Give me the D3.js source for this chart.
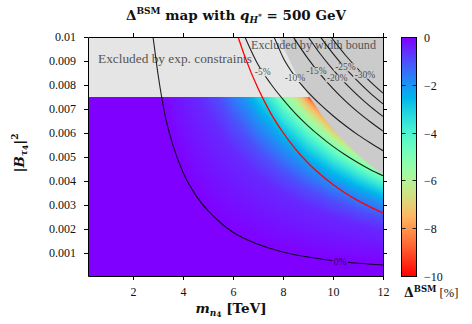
<!DOCTYPE html>
<html><head><meta charset="utf-8">
<script src="https://cdn.jsdelivr.net/npm/d3@7"></script>
<style>body{margin:0;background:#fff}svg{display:block;font-family:"Liberation Serif","Times New Roman",serif}</style>
</head><body><svg id="chart" width="472" height="324"></svg>
<script>
// ---------- data ----------
const xDomain = [0.2, 12];
const yDomain = [0.00004, 0.01];
const xTicks = [2, 4, 6, 8, 10, 12];
const xTickLabels = ["2", "4", "6", "8", "10", "12"];
const yTicks = [0.001, 0.002, 0.003, 0.004, 0.005, 0.006, 0.007, 0.008, 0.009, 0.01];
const yTickLabels = ["0.001", "0.002", "0.003", "0.004", "0.005", "0.006", "0.007", "0.008", "0.009", "0.01"];
const cbTicks = [0, -2, -4, -6, -8, -10];
const cbTickLabels = ["0", "\u22122", "\u22124", "\u22126", "\u22128", "\u221210"];
const cbDomain = [-10, 0];
const expBound = 0.0075;           // |B|^2 above this is excluded by exp. constraints

// contour lines of Delta^BSM [%]: points [m_n4 (TeV), |B|^2]
const lvl0   = [[2.7,0.0107],[2.8,0.0100],[3.0,0.00845],[3.3,0.00665],[3.6,0.00548],[4.0,0.00436],[4.5,0.00342],[5.0,0.00276],[5.5,0.00226],[6.0,0.00186],[7.0,0.00136],[8.0,0.00104],[9.0,0.00083],[10.0,0.00068],[11.0,0.00057],[12.0,0.00050]];
const lvlM05 = [[2.5,0.0176],[3,0.01364],[3.745,0.0100],[4,0.00912],[4.5,0.00771],[5,0.00667],[6,0.00517],[7,0.00416],[8,0.00345],[9,0.00293],[10,0.00253],[11,0.00221],[12,0.00196]];
const lvlM1  = [[3,0.01716],[4,0.01147],[4.41,0.0100],[5,0.00839],[6,0.00650],[7,0.00524],[8,0.00435],[9,0.00369],[10,0.00318],[11,0.00278],[12,0.00246]];
const lvlM2  = [[4,0.01446],[5,0.01058],[5.205,0.0100],[6,0.00819],[7,0.00660],[8,0.00548],[9,0.00465],[10,0.00401],[11,0.00351],[12,0.00311]];
const lvlM3  = [[4.5,0.01404],[5,0.01211],[5.734,0.0100],[6,0.00938],[7,0.00756],[8,0.00627],[9,0.00532],[10,0.00459],[11,0.00402],[12,0.00356]];
const lvlM4  = [[5,0.01333],[6,0.01033],[6.141,0.0100],[6.5,0.00924],[7,0.00832],[8,0.00690],[9,0.00586],[10,0.00505],[11,0.00442],[12,0.00391]];
const lvlM5  = [[5.5,0.01264],[6,0.01112],[6.476,0.0100],[7,0.00885],[7.5,0.00806],[8,0.00740],[8.5,0.00681],[9,0.00630],[9.5,0.00585],[10,0.00544],[10.5,0.00508],[11,0.00476],[11.5,0.00447],[12,0.00422]];
const lvlM6  = [[6,0.01182],[6.764,0.0100],[7,0.00953],[8,0.00791],[9,0.00671],[10,0.00578],[11,0.00506],[12,0.00448]];
const lvlM7  = [[6,0.01244],[6.5,0.01113],[7.015,0.0100],[7.5,0.00911],[8,0.00832],[9,0.00706],[10,0.00609],[11,0.00533],[12,0.00471]];
const lvlM8  = [[6.5,0.01164],[7,0.01049],[7.243,0.0100],[7.5,0.00952],[8,0.00870],[9,0.00738],[10,0.00637],[11,0.00557],[12,0.00493]];
const lvlM10 = [[7,0.01129],[7.64,0.0100],[8,0.00915],[8.5,0.00833],[9,0.00770],[9.5,0.00718],[10,0.00672],[10.5,0.00630],[11,0.00592],[11.5,0.00558],[12,0.00526]];
const lvlM15 = [[8.412,0.0100],[8.5,0.00986],[9,0.00910],[9.5,0.00843],[10,0.00785],[10.5,0.00733],[11,0.00687],[11.5,0.00646],[12,0.00608]];
const lvlM20 = [[9.008,0.0100],[9.5,0.00928],[10,0.00864],[10.5,0.00807],[11,0.00756],[11.5,0.00710],[12,0.00669]];
const lvlM25 = [[9.5,0.0100],[10,0.00931],[10.5,0.00869],[11,0.00815],[11.5,0.00765],[12,0.00721]];
const lvlM30 = [[9.92,0.0100],[10.5,0.00924],[11,0.00866],[11.5,0.00813],[12,0.00766]];
const redLine = [[6.205,0.0100],[6.5,0.00911],[7,0.00786],[7.5,0.00684],[8,0.00602],[8.5,0.00533],[9,0.00475],[9.5,0.00427],[10,0.00385],[10.5,0.00349],[11,0.00318],[11.5,0.00291],[12,0.00267]];
const widthBound = [[7.84,0.0100],[8,0.00961],[8.5,0.00851],[9,0.00759],[9.5,0.00681],[10,0.00615],[10.5,0.00558],[11,0.00508],[11.5,0.00465],[12,0.00427]];

const fieldLevels = [0, -0.5, -1, -2, -3, -4, -5, -6, -7, -8, -10];
const fieldCurves = [lvl0, lvlM05, lvlM1, lvlM2, lvlM3, lvlM4, lvlM5, lvlM6, lvlM7, lvlM8, lvlM10];
const drawnCurves = [lvl0, lvlM5, lvlM10, lvlM15, lvlM20, lvlM25, lvlM30];

const labelText = ["0%", "-5%", "-10%", "-15%", "-20%", "-25%", "-30%"];
const labelM    = [10.28, 7.19, 8.48, 9.34, 10.17, 10.50, 11.28];
const labelB2   = [0.00064, 0.00853, 0.00829, 0.00858, 0.00828, 0.00874, 0.00843];

// ---------- layout ----------
const W = 472, H = 324;
const L = 88, R = 383, T = 37, B = 276;
const svg = d3.select("#chart");
const x = d3.scaleLinear().domain(xDomain).range([L, R]);
const y = d3.scaleLinear().domain(yDomain).range([B, T]);
const cbY = d3.scaleLinear().domain(cbDomain).range([B, T]);
const SERIF = '"Liberation Serif", "Times New Roman", serif';
const BOLDF = '"DejaVu Serif", serif';

function rainbow(t) {
  t = Math.max(0, Math.min(1, t));
  const r = Math.min(1, Math.abs(2 * t - 0.5));
  const g = Math.sin(Math.PI * t);
  const b = Math.cos(Math.PI * t / 2);
  return [Math.round(r * 255), Math.round(g * 255), Math.round(b * 255)];
}
const rgbStr = c => `rgb(${c[0]},${c[1]},${c[2]})`;

function curveAt(c, m) {
  if (m < c[0][0]) return Infinity;
  if (m >= c[c.length - 1][0]) return c[c.length - 1][1];
  for (let i = 0; i < c.length - 1; i++) {
    if (m >= c[i][0] && m <= c[i + 1][0]) {
      const f = (m - c[i][0]) / (c[i + 1][0] - c[i][0]);
      return c[i][1] + f * (c[i + 1][1] - c[i][1]);
    }
  }
  return Infinity;
}

const defs = svg.append("defs");
defs.append("clipPath").attr("id", "plotclip").append("rect")
  .attr("x", L).attr("y", T).attr("width", R - L).attr("height", B - T);

svg.append("rect").attr("width", W).attr("height", H).attr("fill", "#fff");

// ---------- colour field ----------
const pw = R - L, ph = B - T;
const canvas = document.createElement("canvas");
canvas.width = pw; canvas.height = ph;
const ctx = canvas.getContext("2d");
const img = ctx.createImageData(pw, ph);
for (let i = 0; i < pw; i++) {
  const m = x.invert(L + i + 0.5);
  const bs = fieldCurves.map(c => curveAt(c, m));
  for (let j = 0; j < ph; j++) {
    const b2 = y.invert(T + j + 0.5);
    let d;
    if (b2 <= bs[0]) d = 0;
    else {
      d = fieldLevels[fieldLevels.length - 1];
      for (let k = 0; k < bs.length - 1; k++) {
        if (b2 < bs[k + 1]) {
          const f = isFinite(bs[k + 1]) ? (b2 - bs[k]) / (bs[k + 1] - bs[k]) : 0;
          d = fieldLevels[k] + f * (fieldLevels[k + 1] - fieldLevels[k]);
          break;
        }
      }
    }
    const c = rainbow(-d / 10);
    const p = (j * pw + i) * 4;
    img.data[p] = c[0]; img.data[p + 1] = c[1]; img.data[p + 2] = c[2]; img.data[p + 3] = 255;
  }
}
ctx.putImageData(img, 0, 0);
svg.append("image").attr("x", L).attr("y", T).attr("width", pw).attr("height", ph)
  .attr("preserveAspectRatio", "none").attr("href", canvas.toDataURL());

const plot = svg.append("g").attr("clip-path", "url(#plotclip)");

// excluded regions
plot.append("rect").attr("x", L).attr("y", y(yDomain[1])).attr("width", R - L)
  .attr("height", y(expBound) - y(yDomain[1])).attr("fill", "#e5e5e5");
const wbPts = widthBound.map(d => [x(d[0]), y(d[1])]).concat([[x(xDomain[1]), y(yDomain[1])]]);
plot.append("path").attr("d", d3.line().curve(d3.curveLinearClosed)(wbPts)).attr("fill", "#cbcbcb");

plot.append("text").attr("x", 98).attr("y", 63).style("font-family", SERIF).attr("font-size", 12.5).attr("fill", "#555")
  .attr("textLength", 154).attr("lengthAdjust", "spacingAndGlyphs").text("Excluded by exp. constraints");
plot.append("text").attr("x", 251).attr("y", 49).style("font-family", SERIF).attr("font-size", 12.5).attr("fill", "#555")
  .attr("textLength", 125).attr("lengthAdjust", "spacingAndGlyphs").text("Excluded by width bound");

// labels + mask gaps
const mask = defs.append("mask").attr("id", "lblmask").attr("maskUnits", "userSpaceOnUse")
  .attr("x", 0).attr("y", 0).attr("width", W).attr("height", H);
mask.append("rect").attr("width", W).attr("height", H).attr("fill", "#fff");

const line = d3.line().x(d => x(d[0])).y(d => y(d[1])).curve(d3.curveMonotoneX);
const lines = plot.append("g").attr("mask", "url(#lblmask)");
drawnCurves.forEach(c => {
  lines.append("path").attr("d", line(c)).attr("fill", "none")
    .attr("stroke", "#000").attr("stroke-opacity", 0.85).attr("stroke-width", 1.1);
});
plot.append("path").attr("d", line(redLine)).attr("fill", "none")
  .attr("stroke", "#ff0000").attr("stroke-width", 1.3);

labelText.forEach((t, i) => {
  const tx = plot.append("text").attr("x", x(labelM[i])).attr("y", y(labelB2[i]))
    .attr("text-anchor", "middle").attr("dominant-baseline", "central").style("font-family", SERIF)
    .attr("font-size", 9.5).attr("fill", "#000").attr("fill-opacity", 0.68).text(t);
  const bb = tx.node().getBBox();
  mask.append("rect").attr("x", bb.x - 1.5).attr("y", bb.y + 1).attr("width", bb.width + 3)
    .attr("height", bb.height - 2).attr("fill", "#000");
});

// ---------- axes ----------
function styleAxis(g) {
  g.style("font-family", SERIF).attr("font-size", 12);
  g.selectAll("path,line").attr("stroke", "#000").attr("stroke-width", 1);
  g.selectAll("text").attr("fill", "#111");
}
svg.append("g").attr("transform", `translate(0,${B})`)
  .call(d3.axisBottom(x).tickValues(xTicks).tickFormat((d, i) => xTickLabels[i]).tickSize(4).tickSizeOuter(0).tickPadding(7))
  .call(styleAxis);
svg.append("g").attr("transform", `translate(0,${T})`)
  .call(d3.axisTop(x).tickValues(xTicks).tickFormat("").tickSize(4).tickSizeOuter(0))
  .call(styleAxis);
svg.append("g").attr("transform", `translate(${L},0)`)
  .call(d3.axisLeft(y).tickValues(yTicks).tickFormat((d, i) => yTickLabels[i]).tickSize(4).tickSizeOuter(0).tickPadding(8))
  .call(styleAxis);
svg.append("g").attr("transform", `translate(${R},0)`)
  .call(d3.axisRight(y).tickValues(yTicks).tickFormat("").tickSize(4).tickSizeOuter(0))
  .call(styleAxis);

// titles
const title = svg.append("text").attr("x", 236).attr("y", 20).attr("text-anchor", "middle")
  .style("font-family", BOLDF).attr("font-size", 13.5).attr("font-weight", "bold").attr("fill", "#111");
title.append("tspan").text("\u0394");
title.append("tspan").attr("font-size", 9).attr("dy", -6).text("BSM");
title.append("tspan").attr("dy", 6).text(" map with ");
title.append("tspan").attr("font-style", "italic").text("q");
title.append("tspan").attr("font-style", "italic").attr("font-size", 9).attr("dy", 3).text("H");
title.append("tspan").attr("font-size", 7.5).attr("dy", -4).text("*");
title.append("tspan").attr("dy", 1).text(" = 500 GeV");

const xl = svg.append("text").attr("x", 231).attr("y", 313).attr("text-anchor", "middle")
  .style("font-family", BOLDF).attr("font-size", 13.5).attr("font-weight", "bold").attr("fill", "#111");
xl.append("tspan").attr("font-style", "italic").text("m");
xl.append("tspan").attr("font-style", "italic").attr("font-size", 9).attr("dy", 3).text("n");
xl.append("tspan").attr("font-size", 7.5).attr("dy", 1).text("4");
xl.append("tspan").attr("dy", -4).text(" [TeV]");

const yl = svg.append("text").attr("transform", "translate(24,153) rotate(-90)").attr("text-anchor", "middle")
  .style("font-family", BOLDF).attr("font-size", 13.5).attr("font-weight", "bold").attr("fill", "#111");
yl.append("tspan").text("|");
yl.append("tspan").attr("font-style", "italic").text("B");
yl.append("tspan").attr("font-style", "italic").attr("font-size", 9).attr("dy", 3).text("\u03c4");
yl.append("tspan").attr("font-size", 7.5).attr("dy", 1).text("4");
yl.append("tspan").attr("dy", -4).text("|");
yl.append("tspan").attr("font-size", 9).attr("dy", -6).text("2");

// ---------- colour bar ----------
const grad = defs.append("linearGradient").attr("id", "cbgrad")
  .attr("x1", 0).attr("y1", 0).attr("x2", 0).attr("y2", 1);
d3.range(0, 1.0001, 0.025).forEach(o => {
  grad.append("stop").attr("offset", o).attr("stop-color", rgbStr(rainbow(o)));
});
const cbX = 401, cbW = 15;
svg.append("rect").attr("x", cbX + 0.5).attr("y", T + 0.5).attr("width", cbW).attr("height", B - T)
  .attr("fill", "url(#cbgrad)").attr("stroke", "#000").attr("stroke-width", 1);
cbTicks.forEach((v, i) => {
  const yy = Math.round(cbY(v)) + 0.5;
  if (v !== 0 && v !== -10) {
    svg.append("line").attr("x1", cbX + 0.5).attr("x2", cbX + 4.5).attr("y1", yy).attr("y2", yy).attr("stroke", "#222");
    svg.append("line").attr("x1", cbX + cbW - 3.5).attr("x2", cbX + cbW + 0.5).attr("y1", yy).attr("y2", yy).attr("stroke", "#222");
  }
  svg.append("text").attr("x", 424).attr("y", yy).attr("dominant-baseline", "central").style("font-family", SERIF)
    .attr("font-size", 12).attr("fill", "#111").text(cbTickLabels[i]);
});
const cl = svg.append("text").attr("x", 404).attr("y", 297).attr("font-size", 12.5)
  .style("font-family", BOLDF).attr("font-weight", "bold").attr("fill", "#111");
cl.append("tspan").text("\u0394");
cl.append("tspan").attr("font-size", 8.5).attr("dy", -5).text("BSM");
cl.append("tspan").attr("font-size", 12.5).style("font-family", SERIF)
  .attr("font-weight", "normal").attr("dy", 5).text(" [%]");
</script></body></html>
